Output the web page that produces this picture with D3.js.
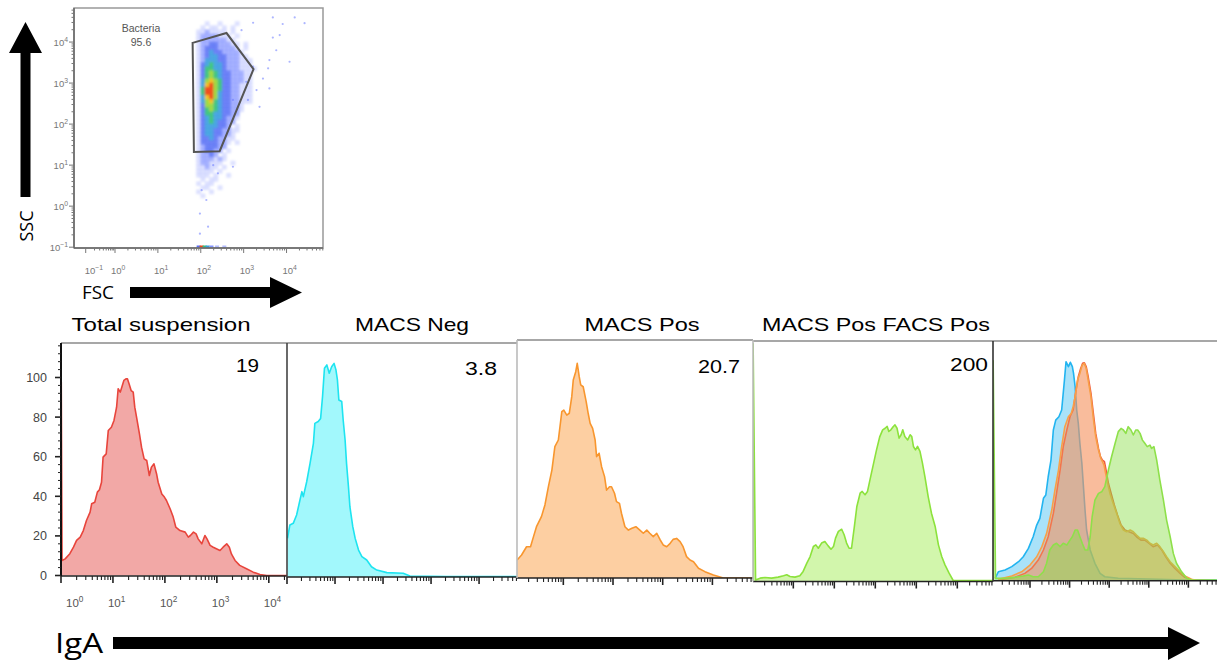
<!DOCTYPE html>
<html>
<head>
<meta charset="utf-8">
<script src="https://cdn.jsdelivr.net/npm/d3@7"></script>
<style>
  body { margin: 0; background: #fff; }
  svg { display: block; }
</style>
</head>
<body>
<svg id="fig" width="1217" height="662"></svg>
<script>
// ---------- data ----------
// histogram series: [log10(IgA), % of max]
var totalSusp = [[0,0],[0.005,98],[0.02,7.6],[0.08,8.4],[0.17,11],[0.24,14.3],[0.3,17.7],[0.37,19.4],[0.43,22.7],[0.49,27.8],[0.56,32],[0.59,36.2],[0.65,37],[0.7,42.1],[0.74,43.3],[0.78,47.1],[0.81,59.8],[0.87,61.4],[0.91,73.2],[0.97,74.9],[1.02,78.3],[1.07,85],[1.1,94.3],[1.14,92.6],[1.17,95.1],[1.21,98.5],[1.25,99.3],[1.28,99.3],[1.31,96.8],[1.35,93.4],[1.39,92.6],[1.42,85],[1.46,79.1],[1.51,71.5],[1.55,64.8],[1.6,58.9],[1.65,58.1],[1.7,50.5],[1.74,54.7],[1.79,56.4],[1.84,51.3],[1.87,47.1],[1.94,41.2],[1.99,39.6],[2.03,37.9],[2.1,33.7],[2.16,29.5],[2.21,24.4],[2.29,22.7],[2.39,21.9],[2.45,19.4],[2.49,20.2],[2.55,21.9],[2.6,21],[2.64,18.5],[2.71,16],[2.77,20.2],[2.81,18.5],[2.87,15.2],[2.93,14.3],[2.99,13.5],[3.06,12.6],[3.12,14.3],[3.19,16],[3.24,14.3],[3.28,10.9],[3.35,7.6],[3.44,5.1],[3.57,3.4],[3.7,1.7],[3.83,0.5],[3.96,0],[4.35,0]];
var macsNeg = [[0.01,19.5],[0.06,26.3],[0.13,27.1],[0.2,31.3],[0.27,38.9],[0.31,43.1],[0.34,40.6],[0.41,48.1],[0.48,57.4],[0.55,67.5],[0.58,77.6],[0.65,78.5],[0.7,80.1],[0.74,91.1],[0.78,105.4],[0.83,107.1],[0.88,102.9],[0.93,106.2],[0.98,107.9],[1.02,104.5],[1.05,99.5],[1.08,89.4],[1.14,88.6],[1.17,79.3],[1.21,69.2],[1.24,57.4],[1.28,45.6],[1.31,35.5],[1.37,25.4],[1.42,19.5],[1.49,13.6],[1.56,10.3],[1.66,8.6],[1.76,5.2],[1.87,3.5],[2.08,2.2],[2.42,1.9],[2.56,0.5],[3.33,0.2],[4.79,0.2]];
var macsPos = [[0.07,9.1],[0.16,11.6],[0.26,15.8],[0.34,15.8],[0.4,20.9],[0.46,25.9],[0.56,31],[0.63,36.9],[0.7,46.1],[0.77,54.5],[0.83,66.3],[0.9,69.7],[0.97,84],[1.01,84.8],[1.07,82.3],[1.12,83.2],[1.17,91.6],[1.2,100],[1.25,104.2],[1.28,108.4],[1.32,101.7],[1.35,97.5],[1.4,96.6],[1.46,89.1],[1.5,83.2],[1.54,78.1],[1.59,75.6],[1.64,69.7],[1.67,61.3],[1.72,63],[1.77,56.2],[1.83,51.2],[1.87,44.4],[1.93,46.1],[1.97,46.1],[2.03,42.8],[2.07,38.6],[2.13,37.7],[2.17,32.7],[2.24,25.9],[2.31,24.2],[2.38,25.1],[2.46,25.9],[2.54,24.2],[2.61,22.6],[2.68,24.2],[2.74,22.6],[2.81,20.9],[2.88,22.6],[2.95,19.2],[3.01,16.7],[3.08,15.8],[3.15,17.5],[3.21,19.5],[3.28,20],[3.35,18.4],[3.41,15.8],[3.48,10.8],[3.55,9.1],[3.62,8.2],[3.72,4.9],[3.85,3.2],[4.02,1.5],[4.22,0],[4.82,0]];
var facsPos = [[0.017,0],[0.02,120],[0.08,0.8],[0.19,1.7],[0.31,2],[0.47,1.7],[0.63,2.2],[0.76,2.9],[0.84,3.4],[0.92,2.5],[1.04,2.2],[1.16,2.9],[1.24,5.1],[1.33,9.3],[1.41,12.6],[1.49,17.7],[1.55,18.5],[1.61,16.8],[1.69,19.4],[1.77,20.2],[1.85,18],[1.92,16.3],[1.98,17.7],[2.03,21.9],[2.1,25.3],[2.18,26.4],[2.24,23.6],[2.3,19.4],[2.36,16.8],[2.42,16.8],[2.49,27.8],[2.55,37.9],[2.63,44.6],[2.68,45.5],[2.75,43.8],[2.81,45.5],[2.87,51.3],[2.95,58.9],[3.03,66.5],[3.11,73.2],[3.18,76.6],[3.24,77.4],[3.29,78.3],[3.33,75.8],[3.38,76.6],[3.44,78.3],[3.48,79.1],[3.53,77.4],[3.58,72.4],[3.63,74.1],[3.67,76.6],[3.72,73.2],[3.79,71.5],[3.85,74.1],[3.89,73.2],[3.93,68.2],[3.98,66.5],[4.03,68.2],[4.09,65.7],[4.15,59.8],[4.21,53],[4.29,42.9],[4.37,34.5],[4.46,27.8],[4.54,18.5],[4.62,12.6],[4.7,8.4],[4.8,4.2],[4.9,0.5],[5.87,0.5]];
// overlay panel (different display transform, so read separately)
var overlayNeg = [[0.12,1.2],[0.2,4.5],[0.37,5.4],[0.54,7.1],[0.71,9.6],[0.83,12.1],[0.96,16.3],[1.08,22.2],[1.17,28.1],[1.25,31.5],[1.34,41.6],[1.4,43.3],[1.46,52.5],[1.53,60.9],[1.59,76.1],[1.65,81.1],[1.73,82.8],[1.8,86.2],[1.87,101.3],[1.91,110.6],[1.97,108.1],[2.02,110.3],[2.07,108.1],[2.1,104.7],[2.14,98],[2.18,86.2],[2.22,79.5],[2.26,69.4],[2.31,59.3],[2.35,47.5],[2.39,35.7],[2.43,25.6],[2.52,15.5],[2.64,8.8],[2.77,3.7],[2.89,2],[3.23,1.2],[4.24,0.7],[4.91,0.3],[5.72,0.3]];
var overlayTotal = [[0.2,0.3],[0.62,1.7],[0.87,3.7],[1.04,6.2],[1.21,10.4],[1.34,15.5],[1.46,22.2],[1.59,34],[1.67,44.1],[1.76,55.9],[1.84,67.7],[1.93,76.1],[2.01,82.8],[2.09,86.2],[2.15,94.6],[2.22,103],[2.28,107.2],[2.33,109.8],[2.37,110.1],[2.42,108.1],[2.47,103],[2.54,94.6],[2.6,84.5],[2.66,74.4],[2.73,66.8],[2.78,62.6],[2.83,60.9],[2.88,60.1],[2.92,55.9],[2.98,49.2],[3.05,44.1],[3.13,38.2],[3.21,33.2],[3.3,28.1],[3.4,25.6],[3.5,24.7],[3.61,23.9],[3.69,22.2],[3.8,20.5],[3.9,20.5],[4.01,18.9],[4.11,17.2],[4.22,18],[4.33,15.5],[4.43,12.1],[4.54,8.8],[4.66,6.2],[4.79,3.7],[4.91,1.7],[5.08,0.3],[5.72,0]];
var overlayPos = [[0.2,0.7],[0.54,2.4],[0.79,4.5],[1,7.9],[1.17,12.1],[1.3,17.2],[1.42,23.9],[1.55,35.7],[1.63,45.8],[1.72,55.9],[1.8,67.7],[1.88,77.8],[1.97,82.8],[2.04,84.5],[2.09,87.9],[2.14,92.9],[2.2,101.3],[2.26,104.7],[2.32,108.9],[2.37,109.8],[2.42,107.2],[2.47,101.3],[2.54,92.9],[2.6,82],[2.66,72.7],[2.73,66],[2.79,61.8],[2.83,60.1],[2.87,58.4],[2.91,54.2],[2.98,47.5],[3.02,44.1],[3.1,39.1],[3.19,34],[3.27,29],[3.36,25.6],[3.44,24.7],[3.53,25.6],[3.61,24.7],[3.69,23.1],[3.78,21.4],[3.86,21.4],[3.95,20.5],[4.03,18.9],[4.11,18],[4.2,18.9],[4.28,17.2],[4.37,14.6],[4.45,12.1],[4.54,9.6],[4.66,7.1],[4.79,4.5],[4.91,2.4],[5.08,0.7],[5.25,0],[5.72,0]];
var overlayFacs = [[0.066,0],[0.07,111],[0.13,1.2],[0.37,1.2],[0.62,1.7],[0.83,2.4],[0.96,2.9],[1.08,2],[1.21,2],[1.34,4.5],[1.42,8.8],[1.5,15.5],[1.59,18],[1.67,18.9],[1.76,17.2],[1.84,18.9],[1.93,18],[2.01,20.5],[2.07,22.2],[2.14,25.6],[2.2,25.6],[2.26,22.2],[2.32,18.9],[2.39,15.5],[2.46,15.5],[2.52,22.2],[2.57,32.3],[2.64,40.7],[2.73,44.1],[2.81,44.9],[2.89,47.5],[2.98,55.9],[3.06,62.6],[3.15,69.4],[3.23,75.3],[3.3,76.9],[3.36,76.1],[3.42,74.4],[3.48,77.8],[3.55,76.1],[3.61,73.6],[3.67,76.1],[3.72,76.1],[3.78,74.4],[3.84,71],[3.9,69.4],[3.96,67.7],[4.03,68.5],[4.07,66.8],[4.13,67.7],[4.2,60.9],[4.28,50.8],[4.37,40.7],[4.45,30.6],[4.54,22.2],[4.62,13.8],[4.7,8.8],[4.83,4.5],[4.96,1.2],[5.08,0.3],[5.72,0.3]];

var panelTitles = ["Total suspension", "MACS Neg", "MACS Pos", "MACS Pos FACS Pos"];
var panelNumbers = ["19", "3.8", "20.7", "200"];
var histYTicks = [0, 20, 40, 60, 80, 100];
var histXLabels = [0, 1, 2, 3, 4];
var scatterDecades = [-1, 0, 1, 2, 3, 4];

// FSC/SSC dot plot: gate (log FSC, log SSC), density grid (rows top->bottom, 0.1 decade cells)
var gateName = "Bacteria";
var gateValue = "95.6";
var gatePoly = [[1.81,3.98],[2.6,4.22],[3.23,3.34],[2.44,1.34],[1.84,1.32]];
var densityRows = [
  "...1..1...1.....",
  "..1.11.1.1......",
  ".1121111.1......",
  ".12222111.1.....",
  ".122222211......",
  ".1223322211.1...",
  ".1233322221.1...",
  ".12343322221....",
  ".123443322211...",
  ".1244433222111..",
  ".1345443222111..",
  ".13554432221111.",
  ".1356543322211..",
  ".1356543322211..",
  ".1467653322211..",
  ".1478653322111..",
  ".1588653322111..",
  ".1588643322111..",
  ".1478643322111..",
  ".1467543322111..",
  ".13665433221....",
  ".13565433221....",
  ".1355443322.....",
  ".1345443221.....",
  ".134543322......",
  ".13444332.1.....",
  ".1344332211.....",
  ".134433221......",
  ".133432211......",
  ".13333221.1.....",
  ".1233322........",
  ".123322.1.......",
  ".12232.1........",
  ".1222121........",
  ".122111..1......",
  ".11211.1........",
  ".1111.1.........",
  ".111.1..1.......",
  "..1.11..........",
  ".1.11...........",
  "..11..1.........",
  ".1..1...........",
  "..1............."
];
var densityLeft = 1.85, densityTop = 4.45, densityStep = 0.1;
var outliers = [[3.68,4.6],[4.19,4.6],[4.42,4.46],[3.91,4.44],[3.22,4.47],[2.95,4.29],[3.76,3.8],[4.07,3.52],[3.57,3.36],[3.45,3.11],[3.3,2.83],[3.6,2.87],[3.1,2.59],[3.37,2.42],[3.06,3.03],[3.68,4.11],[3.6,3.56],[2.75,2.59],[3.22,3.4],[3.84,4.17],[1.98,-0.67],[2.17,-0.5],[2.13,0.15],[2.02,0.39],[2.29,1.0],[2.75,0.96],[2.4,0.8],[1.98,-0.18]];
var axisPile = [[1.95,3],[2.02,8],[2.09,5],[2.16,4],[2.25,2],[2.38,1],[2.55,1]];

// ---------- setup ----------
var svg = d3.select("#fig");
var FONT = "'Liberation Sans', Arial, sans-serif";
var defs = svg.append("defs");
defs.append("filter").attr("id", "soft").attr("x", "-20%").attr("y", "-20%").attr("width", "140%").attr("height", "140%")
  .append("feGaussianBlur").attr("stdDeviation", 1.1);

function logTicks(lo, hi) {
  var out = [];
  for (var d = Math.floor(lo); d <= Math.ceil(hi); d++) {
    for (var k = 1; k <= 9; k++) {
      var v = d + Math.log10(k);
      if (v >= lo - 1e-6 && v <= hi + 1e-6) out.push({ v: v, major: k === 1 });
    }
  }
  return out;
}

function powLabel(g, x, y, exp, size, anchor, color) {
  var t = g.append("text").attr("x", x).attr("y", y)
    .attr("font-family", FONT).attr("font-size", size)
    .attr("fill", color).attr("text-anchor", anchor);
  t.append("tspan").text("10");
  t.append("tspan").attr("dy", -size * 0.45).attr("font-size", size * 0.72).text(exp);
}

// ---------- dot plot ----------
var sx = d3.scaleLinear().domain([-1.4, 0, 4.85]).range([74, 115, 323]);
var sy = d3.scaleLinear().domain([-1.02, 4.83]).range([248, 8]);
var densityColor = ["#fff", "#b4bcff", "#8494ff", "#5870f6", "#3a9ee0", "#36c27a", "#9cd83c", "#f0c020", "#f04a18"];
var densityOpacity = [0, 0.45, 0.7, 0.85, 0.9, 0.92, 0.95, 0.95, 0.95];

defs.append("clipPath").attr("id", "scClip").append("rect")
  .attr("x", 74).attr("y", 8).attr("width", 249).attr("height", 240);

var cells = [];
densityRows.forEach(function (row, r) {
  row.split("").forEach(function (ch, c) {
    if (ch === ".") return;
    cells.push({ x: densityLeft + c * densityStep, y: densityTop - r * densityStep, level: +ch });
  });
});

var scat = svg.append("g");
scat.append("g").attr("clip-path", "url(#scClip)")
  .append("g").attr("filter", "url(#soft)")
  .selectAll("rect").data(cells).join("rect")
  .attr("x", function (d) { return sx(d.x - densityStep / 2) - 0.3; })
  .attr("y", function (d) { return sy(d.y + densityStep / 2) - 0.3; })
  .attr("width", function (d) { return sx(d.x + densityStep / 2) - sx(d.x - densityStep / 2) + 0.6; })
  .attr("height", function (d) { return sy(d.y - densityStep / 2) - sy(d.y + densityStep / 2) + 0.6; })
  .attr("fill", function (d) { return densityColor[d.level]; })
  .attr("opacity", function (d) { return densityOpacity[d.level]; });

scat.selectAll("circle.out").data(outliers).join("circle").attr("class", "out")
  .attr("cx", function (d) { return sx(d[0]); })
  .attr("cy", function (d) { return sy(d[1]); })
  .attr("r", 1.1).attr("fill", "#6a7aff").attr("opacity", 0.55);

scat.selectAll("rect.pile").data(axisPile).join("rect").attr("class", "pile")
  .attr("x", function (d) { return sx(d[0]) - 2; })
  .attr("y", 245.5).attr("width", 4).attr("height", 2.5)
  .attr("fill", function (d) { return densityColor[d[1]]; });

scat.append("path").datum(gatePoly)
  .attr("d", d3.line().x(function (d) { return sx(d[0]); }).y(function (d) { return sy(d[1]); }).curve(d3.curveLinearClosed))
  .attr("fill", "none").attr("stroke", "#555").attr("stroke-width", 2);

scat.append("text").attr("x", 141).attr("y", 32).attr("text-anchor", "middle")
  .attr("font-family", FONT).attr("font-size", 10.5).attr("fill", "#555").text(gateName);
scat.append("text").attr("x", 141).attr("y", 46).attr("text-anchor", "middle")
  .attr("font-family", FONT).attr("font-size", 10.5).attr("fill", "#555").text(gateValue);

// frame
scat.append("rect").attr("x", 74).attr("y", 8).attr("width", 249).attr("height", 240)
  .attr("fill", "none").attr("stroke", "#999").attr("stroke-width", 1.5);
scat.append("line").attr("x1", 74).attr("x2", 74).attr("y1", 8).attr("y2", 248).attr("stroke", "#666").attr("stroke-width", 1.5);
scat.append("line").attr("x1", 74).attr("x2", 323).attr("y1", 248).attr("y2", 248).attr("stroke", "#666").attr("stroke-width", 1.5);

scat.selectAll("line.yt").data(logTicks(-1, 4.83)).join("line").attr("class", "yt")
  .attr("x1", function (d) { return d.major ? 69 : 71.5; }).attr("x2", 74)
  .attr("y1", function (d) { return sy(d.v); }).attr("y2", function (d) { return sy(d.v); })
  .attr("stroke", "#777").attr("stroke-width", 1);
scat.selectAll("line.xt").data(logTicks(-1, 4.85)).join("line").attr("class", "xt")
  .attr("x1", function (d) { return sx(d.v); }).attr("x2", function (d) { return sx(d.v); })
  .attr("y1", 248).attr("y2", function (d) { return d.major ? 253 : 250.5; })
  .attr("stroke", "#777").attr("stroke-width", 1);
scatterDecades.forEach(function (d) {
  powLabel(scat, 68, sy(d) + 4, String(d).replace("-", "\u2212"), 9.5, "end", "#777");
  powLabel(scat, sx(d) - (d < 0 ? 1 : 4), 274, String(d).replace("-", "\u2212"), 9.5, "start", "#777");
});

// arrows & axis names
svg.append("path").attr("d", "M20.5,197 L20.5,53 L9,53 L25.5,22 L42,53 L30.5,53 L30.5,197 Z").attr("fill", "#000");
svg.append("text").attr("transform", "translate(33,226) rotate(-90)").attr("text-anchor", "middle")
  .attr("font-family", "'Open Sans', sans-serif").attr("font-size", 18)
  .attr("textLength", 31).attr("lengthAdjust", "spacingAndGlyphs").text("SSC");
svg.append("path").attr("d", "M130,287 L270,287 L270,277 L302,292.5 L270,308 L270,298 L130,298 Z").attr("fill", "#000");
svg.append("text").attr("x", 82).attr("y", 299)
  .attr("font-family", "'Open Sans', sans-serif").attr("font-size", 19)
  .attr("textLength", 32).attr("lengthAdjust", "spacingAndGlyphs").text("FSC");
svg.append("path").attr("d", "M113,637 L1168,637 L1168,627 L1200,643 L1168,660 L1168,649 L113,649 Z").attr("fill", "#000");
svg.append("text").attr("x", 55).attr("y", 653)
  .attr("font-family", "'Open Sans', sans-serif").attr("font-size", 27)
  .attr("textLength", 48).attr("lengthAdjust", "spacingAndGlyphs").text("IgA");

// ---------- histogram panels ----------
var panels = [
  { left: 61, right: 287, top: 343, bottom: 576, zero: 575.5, dom: [0, 4.35],
    series: [{ data: totalSusp, fill: "#f2a8a6", op: 1, stroke: "#e8453c" }],
    title: 0, titleX: 161, titleLen: 179, numX: 259, numY: 372, numLen: 23 },
  { left: 287, right: 517, top: 343, bottom: 577, zero: 577, dom: [0, 4.79],
    series: [{ data: macsNeg, fill: "#a2f8fc", op: 1, stroke: "#1ee4f0" }],
    title: 1, titleX: 412, titleLen: 114, numX: 497, numY: 375, numLen: 32 },
  { left: 517, right: 753, top: 340, bottom: 578, zero: 578, dom: [0.068, 4.817],
    series: [{ data: macsPos, fill: "#fdcfa2", op: 1, stroke: "#f8962e" }],
    title: 2, titleX: 642, titleLen: 115, numX: 740, numY: 373, numLen: 42 },
  { left: 753, right: 993, top: 341, bottom: 581.5, zero: 581.5, dom: [0.017, 5.871],
    series: [{ data: facsPos, fill: "#d2f6ac", op: 1, stroke: "#8ce23c" }],
    title: 3, titleX: 876, titleLen: 228, numX: 988, numY: 371, numLen: 38 },
  { left: 993, right: 1233, top: 341, bottom: 580.7, zero: 580.7, dom: [0.066, 6.127],
    series: [
      { data: overlayNeg, fill: "#40bff2", op: 0.45, stroke: "#22b4f0" },
      { data: overlayTotal, fill: "#f27a5c", op: 0.38, stroke: "#f05a40" },
      { data: overlayPos, fill: "#f8a460", op: 0.38, stroke: "#f8a048" },
      { data: overlayFacs, fill: "#8ade48", op: 0.45, stroke: "#8ee04a" }
    ] }
];

panels.forEach(function (p, i) {
  var x = d3.scaleLinear().domain(p.dom).range([p.left, p.right]);
  var y = d3.scaleLinear().domain([0, 100]).range([p.zero, p.zero - 198]);
  var g = svg.append("g");
  defs.append("clipPath").attr("id", "pc" + i).append("rect")
    .attr("x", p.left).attr("y", p.top).attr("width", p.right - p.left).attr("height", p.bottom - p.top);
  var plot = g.append("g").attr("clip-path", "url(#pc" + i + ")");
  var area = d3.area().x(function (d) { return x(d[0]); }).y0(y(0)).y1(function (d) { return y(d[1]); });
  var line = d3.line().x(function (d) { return x(d[0]); }).y(function (d) { return y(d[1]); });
  p.series.forEach(function (s) {
    plot.append("path").datum(s.data).attr("d", area).attr("fill", s.fill).attr("fill-opacity", s.op);
    plot.append("path").datum(s.data).attr("d", line).attr("fill", "none")
      .attr("stroke", s.stroke).attr("stroke-width", 1.6).attr("stroke-linejoin", "round");
  });

  // frame
  g.append("line").attr("x1", p.left).attr("x2", Math.min(p.right, 1217)).attr("y1", p.top).attr("y2", p.top)
    .attr("stroke", "#8a8a8a").attr("stroke-width", 1.6);
  g.append("line").attr("x1", p.left).attr("x2", Math.min(p.right, 1217)).attr("y1", p.bottom).attr("y2", p.bottom)
    .attr("stroke", "#222").attr("stroke-width", 1.6);

  // x ticks
  g.selectAll("line.xt").data(logTicks(p.dom[0], Math.min(p.dom[1], x.invert(1217)))).join("line").attr("class", "xt")
    .attr("x1", function (d) { return x(d.v); }).attr("x2", function (d) { return x(d.v); })
    .attr("y1", p.bottom).attr("y2", function (d) { return p.bottom + (d.major ? 7 : 4); })
    .attr("stroke", "#222").attr("stroke-width", function (d) { return d.major ? 1.6 : 1.1; });

  if (p.title !== undefined) {
    g.append("text").attr("x", p.titleX).attr("y", 331).attr("text-anchor", "middle")
      .attr("font-family", FONT).attr("font-size", 18.5)
      .attr("textLength", p.titleLen).attr("lengthAdjust", "spacingAndGlyphs").text(panelTitles[p.title]);
    g.append("text").attr("x", p.numX).attr("y", p.numY).attr("text-anchor", "end")
      .attr("font-family", FONT).attr("font-size", 18.5)
      .attr("textLength", p.numLen).attr("lengthAdjust", "spacingAndGlyphs").text(panelNumbers[p.title]);
  }

  if (i === 0) {
    // y axis with counts
    g.append("line").attr("x1", p.left).attr("x2", p.left).attr("y1", p.top).attr("y2", p.bottom)
      .attr("stroke", "#111").attr("stroke-width", 2);
    g.selectAll("line.ym").data(d3.range(0, 117, 4)).join("line").attr("class", "ym")
      .attr("x1", function (d) { return d % 20 === 0 ? p.left - 6 : p.left - 3; }).attr("x2", p.left)
      .attr("y1", function (d) { return y(d); }).attr("y2", function (d) { return y(d); })
      .attr("stroke", "#222").attr("stroke-width", function (d) { return d % 20 === 0 ? 1.6 : 1; });
    g.selectAll("text.yl").data(histYTicks).join("text").attr("class", "yl")
      .attr("x", p.left - 14).attr("y", function (d) { return y(d) + 4.5; })
      .attr("text-anchor", "end").attr("font-family", FONT).attr("font-size", 12.5).attr("fill", "#444")
      .text(function (d) { return d; });
    histXLabels.forEach(function (d) {
      powLabel(g, Math.max(x(d) - 5, p.left + 5), 607, String(d), 11.5, "start", "#555");
    });
  }
});

// vertical separators between panels
var seps = [[287, 343, 577, "#444"], [517, 340, 578, "#bbb"], [753, 340, 581.5, "#bbb"], [993, 341, 581.5, "#333"]];
seps.forEach(function (s) {
  svg.append("line").attr("x1", s[0]).attr("x2", s[0]).attr("y1", s[1]).attr("y2", s[2])
    .attr("stroke", s[3]).attr("stroke-width", 1.6);
});
</script>
</body>
</html>
